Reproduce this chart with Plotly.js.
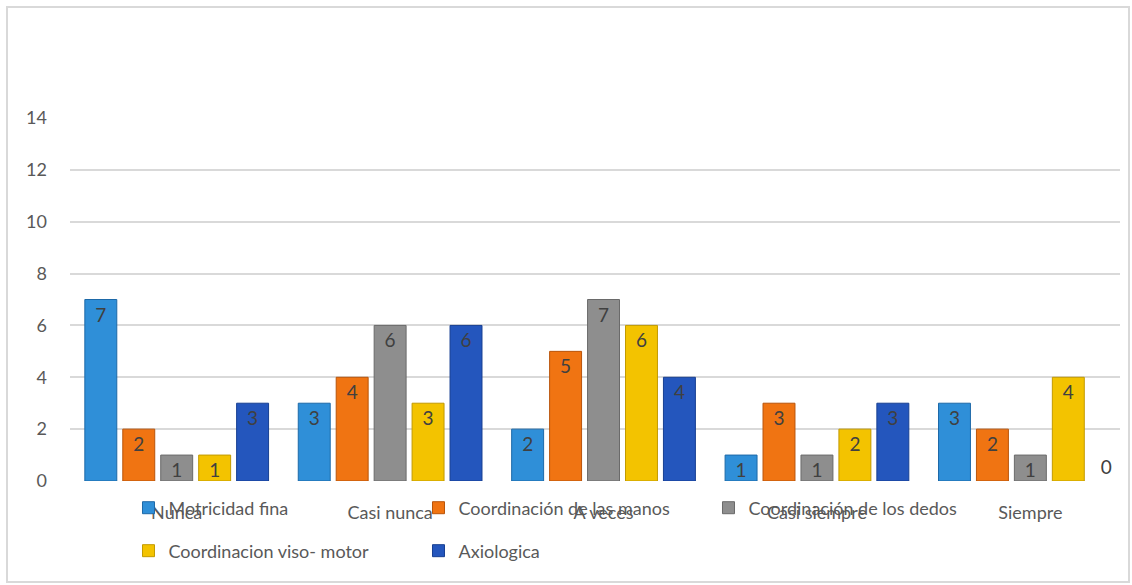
<!DOCTYPE html>
<html><head><meta charset="utf-8">
<script src="https://cdn.plot.ly/plotly-3.0.1.min.js"></script>
<style>html,body{margin:0;padding:0;background:#fff}#frame{position:absolute;left:6px;top:6px;width:1124px;height:577px;border:2px solid #d9d9d9;pointer-events:none;box-sizing:border-box}</style>
</head><body>
<div id="chart" style="width:1132px;height:585px"></div>
<div id="frame"></div>
<script>
const categories = ["Nunca", "Casi nunca", "A veces", "Casi siempre", "Siempre"];
const seriesNames = ["Motricidad fina", "Coordinación de las manos", "Coordinación de los dedos", "Coordinacion viso- motor", "Axiologica"];
const motricidadFina = [7, 3, 2, 1, 3];
const coordManos = [2, 4, 5, 3, 2];
const coordDedos = [1, 6, 7, 1, 1];
const visoMotor = [1, 3, 6, 2, 4];
const axiologica = [3, 6, 4, 3, 0];
const yTicks = [0, 2, 4, 6, 8, 10, 12, 14];

const colors = ["#2f8fd8", "#f07412", "#8e8e8e", "#f3c300", "#2456bd"];
const lines = ["#1d69a8", "#b9540a", "#6a6a6a", "#c29a00", "#173f92"];
const legendOf = ["legend", "legend", "legend", "legend2", "legend2"];
const values = [motricidadFina, coordManos, coordDedos, visoMotor, axiologica];
const font = "Lato, 'Open Sans', sans-serif";

const traces = values.map((v, i) => ({
  type: "bar",
  name: seriesNames[i],
  legend: legendOf[i],
  x: categories,
  y: v,
  text: v.map(String),
  textposition: v.map(d => d === 0 ? "outside" : "inside"),
  insidetextanchor: "end",
  textangle: 0,
  constraintext: "none",
  cliponaxis: false,
  textfont: {family: font, size: 19, color: "#404040"},
  insidetextfont: {family: font, size: 19, color: "#404040"},
  outsidetextfont: {family: font, size: 19, color: "#404040"},
  marker: {color: colors[i], line: {color: lines[i], width: v.map(d => d === 0 ? 0 : 1)}},
  hoverinfo: "x+y+name"
}));

const legendBase = {
  orientation: "h", xanchor: "left", yanchor: "middle",
  font: {family: font, size: 18, color: "#595959"},
  entrywidth: 245, entrywidthmode: "pixels",
  itemwidth: 30, traceorder: "normal", bgcolor: "rgba(0,0,0,0)"
};

const layout = {
  width: 1132, height: 585,
  margin: {l: 70, r: 12, t: 118, b: 104, autoexpand: false},
  paper_bgcolor: "#fff", plot_bgcolor: "#fff",
  barmode: "group", bargap: 0.111, bargroupgap: 0.158,
  showlegend: true,
  font: {family: font, color: "#595959", size: 18},
  xaxis: {
    range: [-0.5, 4.42],
    tickfont: {family: font, size: 18, color: "#595959"},
    showgrid: false, zeroline: false, showline: false, automargin: false,
    ticklabelstandoff: 19, fixedrange: true
  },
  yaxis: {
    range: [0, 14], tickvals: yTicks, ticktext: yTicks.map(String),
    tickfont: {family: font, size: 18, color: "#595959"},
    gridcolor: "#d9d9d9", gridwidth: 2, zeroline: false, showline: false, automargin: false,
    ticklabelstandoff: 22, fixedrange: true
  },
  legend: Object.assign({}, legendBase, {x: 0.0557, y: -0.0744}),
  legend2: Object.assign({}, legendBase, {x: 0.0557, y: -0.1928})
};

Plotly.newPlot("chart", traces, layout, {displayModeBar: false, staticPlot: true});
</script>
</body></html>
